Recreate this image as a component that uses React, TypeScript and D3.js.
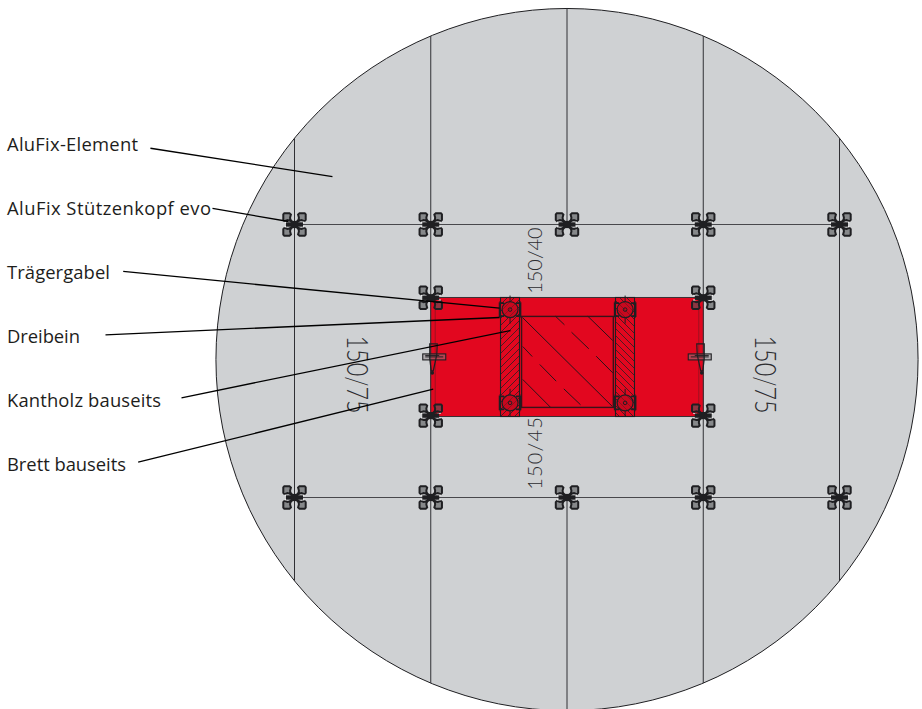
import React from "react";
import * as d3 from "d3";

const gridColumns = [-300, -150, 0, 150, 300];
const gridRows = [-150, 150];
const innerNodeColumns = [-150, 150];
const innerNodeRows = [-69.5, 60];
const dishCentre = [0, -1.6];
const dishRadius = 386.5;
const panel = { x0: -150, x1: 150, y0: -69.8, y1: 61 };
const square = { x0: -50, x1: 51, y0: -49, y1: 51 };
const beamColumns = [
  { x0: -73.2, x1: -52.3, hatch: "hatchA" },
  { x0: 53.4, x1: 74.3, hatch: "hatchB" },
];
const headColumns = [-62.7, 64];
const headRows = [-56.5, 46];
const clampSides = [-1, 1];
const clampRow = -4.5;
const grain = [
  [-49, -47.8, 50, 50],
  [-12.7, -49.2, -2.8, -39.8],
  [22.9, -49.2, 50.4, -22.5],
  [5, -31.6, 24, -13.4],
  [32.1, -5.3, 50.4, 13],
  [-48.7, -15.9, -38.3, -4.9],
  [-30, 3.8, -11.9, 22.2],
  [-48.7, 20.3, -18.2, 50.8],
  [-3.5, 30.6, 14.9, 48.1],
];
const labels = ["AluFix-Element", "AluFix Stützenkopf evo", "Trägergabel", "Dreibein", "Kantholz bauseits", "Brett bauseits"];
const labelRows = [151, 215, 279, 343, 407, 471];
const labelWidths = [131, 204, 103, 73, 154, 119];
const leaderFrom = [[-458.6, -233.8], [-390.3, -167.6], [-488.6, -98.4], [-508.1, -28.8], [-424.4, 40.4], [-472.1, 111.2]];
const leaderTo = [[-258.2, -202.7], [-306.6, -153.3], [-74.3, -58], [-74.3, -47.8], [-62.2, -33.5], [-147.3, 31]];

const x = d3.scaleLinear().domain([-300, 300]).range([294.5, 839.5]);
const y = d3.scaleLinear().domain([-150, 150]).range([224.5, 497.5]);
const ink = "#1f1f22";
const dimInk = "#2c2c30";
const sides = [-1, 1];

function Node({ cx, cy }: { cx: number; cy: number }) {
  return (
    <g transform={`translate(${cx},${cy})`}>
      {sides.flatMap((sx) =>
        sides.map((sy) => (
          <g key={`${sx}${sy}`} transform={`scale(${sx},${sy})`}>
            <path d="M4 3.6 L7 4.4 L10 3.4 L11.2 4.6 L11.2 10.2 L10.2 11.2 L5 11.2 L3.6 10 L4.4 7 Z" fill="#55565a" fillOpacity={0.6} stroke={ink} strokeWidth={2} />
            <path d="M0 0 L4.5 4.5" stroke={ink} strokeWidth={2.6} />
            <path d="M6.5 1.6 L10 2.4" stroke="#f0f0f0" strokeWidth={1.1} />
          </g>
        ))
      )}
      <rect x={-8.5} y={-2.2} width={17} height={4.4} fill={ink} />
      <rect x={-3.5} y={-3.6} width={7} height={7.2} fill={ink} />
    </g>
  );
}

function Head({ cx, cy }: { cx: number; cy: number }) {
  return (
    <g transform={`translate(${cx},${cy})`} fill="none" stroke={ink}>
      <path d="M-10.5 -3 V-6.5 H-6 M6 -6.5 H10.5 V6.5 H6 M-6 6.5 H-10.5 V-3" strokeWidth={1.6} />
      <circle r={8} strokeWidth={1.2} fill="#b80a1e" fillOpacity={0.6} />
      <circle r={1.8} strokeWidth={1} />
      <path d="M0 -14 V-8 M0 8 V14" strokeWidth={1} />
      <path d="M-8 -6 L-10.5 -8 M8 -6 L10.5 -8 M-8 6 L-10.5 8 M8 6 L10.5 8" strokeWidth={1} />
    </g>
  );
}

function Clamp({ side }: { side: number }) {
  const cx = x(side * 150) + (side < 0 ? 0.5 : -0.5);
  const mirror = side < 0 ? 1 : -1;
  return (
    <g transform={`translate(${cx},${y(clampRow)}) scale(${mirror},1)`}>
      <rect x={-8.5} y={-3} width={23} height={6} fill="#8c7f84" fillOpacity={0.5} stroke={ink} strokeWidth={1.1} />
      <path d="M-6 0 H12 M-6 -1.5 H8" stroke={ink} strokeWidth={1} />
      <path d="M-1.5 -13 H6 L5.5 -2 L2 14 H0 L-1.5 2 Z" fill="none" stroke={ink} strokeWidth={1.2} />
      <circle cx={1} cy={16} r={1.8} fill={ink} />
    </g>
  );
}

export default function App() {
  const cx = x(dishCentre[0]);
  const cy = y(dishCentre[1]);
  const r = x(dishRadius) - x(0);
  const nodes = [
    ...gridRows.flatMap((row) => gridColumns.map((col) => [col, row])),
    ...innerNodeRows.flatMap((row) => innerNodeColumns.map((col) => [col, row])),
  ];
  const px = (a: number) => x(a) - x(0);
  return (
    <svg width={922} height={709} viewBox="0 0 922 709" style={{ position: "absolute", left: 0, top: 0, background: "#fff" }}>
      <defs>
        <pattern id="hatchA" patternUnits="userSpaceOnUse" width={7} height={7}>
          <path d="M-1 8 L8 -1 M-1 1 L1 -1 M6 8 L8 6" stroke={ink} strokeWidth={0.75} />
        </pattern>
        <pattern id="hatchB" patternUnits="userSpaceOnUse" width={7} height={7}>
          <path d="M-1 -1 L8 8 M-1 6 L1 8 M6 -1 L8 1" stroke={ink} strokeWidth={0.75} />
        </pattern>
      </defs>
      <circle cx={cx} cy={cy} r={r} fill="#cfd1d3" stroke="#1f1f22" strokeWidth={1} />
      {gridColumns.map((col) => {
        const half = Math.sqrt(r * r - (x(col) - cx) ** 2);
        const parts = col === 0
          ? [[cy - half, y(gridRows[0])], [y(gridRows[1]), cy + half]]
          : [[cy - half, cy + half]];
        return parts.map(([a, b], i) => (
          <line key={`${col}-${i}`} x1={x(col)} x2={x(col)} y1={a} y2={b} stroke="#303034" strokeWidth={1} />
        ));
      })}
      {gridRows.map((row) => (
        <line key={row} x1={x(-300)} x2={x(300)} y1={y(row)} y2={y(row)} stroke="#48484c" strokeWidth={1} />
      ))}
      <rect x={x(panel.x0)} y={y(panel.y0)} width={x(panel.x1) - x(panel.x0)} height={y(panel.y1) - y(panel.y0)} fill="#e2071f" stroke="#3a3034" strokeWidth={1} />
      <line x1={x(panel.x0) + 4.5} x2={x(panel.x0) + 4.5} y1={y(panel.y0)} y2={y(panel.y1)} stroke="#a80f20" strokeWidth={1.2} />
      <line x1={x(panel.x1) - 4.5} x2={x(panel.x1) - 4.5} y1={y(panel.y0)} y2={y(panel.y1)} stroke="#a80f20" strokeWidth={1.2} />
      {beamColumns.map((b) => (
        <rect key={b.hatch} x={x(b.x0)} y={y(panel.y0)} width={x(b.x1) - x(b.x0)} height={y(panel.y1) - y(panel.y0)} fill={`url(#${b.hatch})`} stroke={ink} strokeWidth={1.1} />
      ))}
      <rect x={x(square.x0)} y={y(square.y0)} width={x(square.x1) - x(square.x0)} height={y(square.y1) - y(square.y0)} fill="none" stroke="#3a1219" strokeWidth={1.4} />
      {grain.map(([a, b, c, d], i) => (
        <line key={i} x1={x(a)} y1={y(b)} x2={x(c)} y2={y(d)} stroke="#2c1218" strokeWidth={1} />
      ))}
      {headColumns.flatMap((col) => headRows.map((row) => <Head key={`${col}${row}`} cx={x(col)} cy={y(row)} />))}
      {clampSides.map((s) => <Clamp key={s} side={s} />)}
      {nodes.map(([col, row]) => <Node key={`${col},${row}`} cx={x(col)} cy={y(row)} />)}
      <g fontFamily="Lato" fontWeight={300} fill={dimInk}>
        <text transform={`translate(${x(-25.5) - 2},${y(-74)}) rotate(-90)`} fontSize={20} textLength={px(73)} lengthAdjust="spacing">150/40</text>
        <text transform={`translate(${x(-25.5) - 2},${y(141.5)}) rotate(-90)`} fontSize={20} textLength={px(80)} lengthAdjust="spacing">150/45</text>
        <text transform={`translate(${x(-242)},${y(-28)}) rotate(90)`} fontSize={30} textLength={px(86)} lengthAdjust="spacingAndGlyphs">150/75</text>
        <text transform={`translate(${x(207)},${y(-28)}) rotate(90)`} fontSize={30} textLength={px(86)} lengthAdjust="spacingAndGlyphs">150/75</text>
      </g>
      {labels.map((t, i) => (
        <g key={t}>
          <line x1={x(leaderFrom[i][0])} y1={y(leaderFrom[i][1])} x2={x(leaderTo[i][0])} y2={y(leaderTo[i][1])} stroke="#000" strokeWidth={1.3} />
          <text x={7} y={labelRows[i]} fontFamily="Open Sans" fontSize={18.4} fill="#1d1d1b" textLength={labelWidths[i]} lengthAdjust="spacing">{t}</text>
        </g>
      ))}
    </svg>
  );
}
